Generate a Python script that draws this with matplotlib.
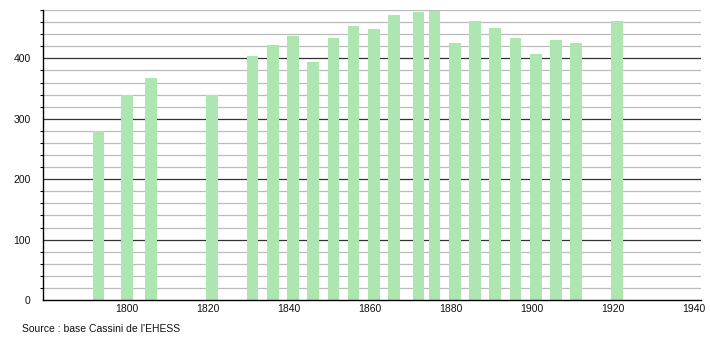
import matplotlib
matplotlib.use("Agg")
import matplotlib.pyplot as plt
from matplotlib.ticker import MultipleLocator

years = [1793, 1800, 1806, 1821, 1831, 1836, 1841, 1846, 1851, 1856, 1861,
         1866, 1872, 1876, 1881, 1886, 1891, 1896, 1901, 1906, 1911, 1921]
population = [280, 340, 367, 340, 404, 422, 437, 394, 434, 454, 449,
              471, 476, 478, 425, 461, 450, 434, 408, 430, 425, 461]
xticks = [1800, 1820, 1840, 1860, 1880, 1900, 1920, 1940]
yticks = [0, 100, 200, 300, 400]
source_text = "Source : base Cassini de l'EHESS"

plt.rcParams['font.family'] = ['Liberation Sans', 'DejaVu Sans']

fig = plt.figure(figsize=(7.1, 3.4), dpi=100)
ax = fig.add_axes([43 / 710, 40 / 340, (700.7 - 43) / 710, 290 / 340])

# grid lines
for v in range(20, 481, 20):
    if v % 100 == 0:
        ax.axhline(v, color='#333333', lw=0.9, zorder=1)
    else:
        ax.axhline(v, color='#bbbbbb', lw=0.9, zorder=1)

ax.bar(years, population, width=2.9, color='#ade6b0', zorder=2)

ax.set_xlim(1779.3, 1941.7)
ax.set_ylim(0, 480)
ax.set_xticks(xticks)
ax.set_yticks(yticks)
ax.yaxis.set_minor_locator(MultipleLocator(20))

for s in ['top', 'right']:
    ax.spines[s].set_visible(False)
ax.spines['left'].set_linewidth(1.0)
ax.spines['bottom'].set_linewidth(1.0)

ax.tick_params(axis='x', length=0, pad=3, labelsize=7.5, colors='#111111')
ax.tick_params(axis='y', which='major', length=0, pad=9, labelsize=7.5, colors='#111111')
ax.tick_params(axis='y', which='minor', length=2, width=0.8, color='black')

fig.text(22 / 710, 1 - 329 / 340, source_text, fontsize=7.5, ha='left', va='center', color='#111111')

fig.savefig('out.png', dpi=100)
